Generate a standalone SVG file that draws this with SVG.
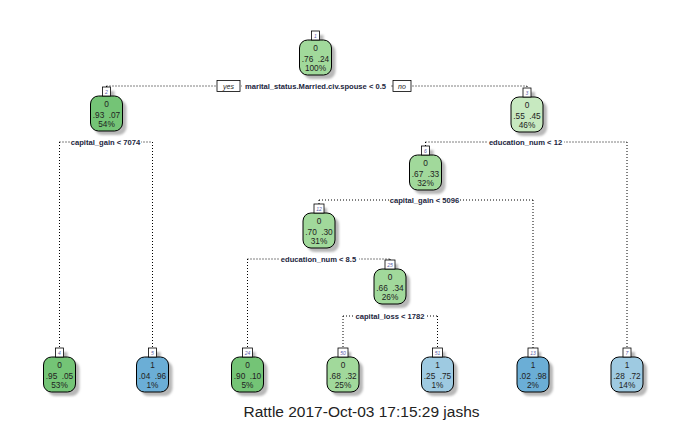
<svg xmlns="http://www.w3.org/2000/svg" width="686" height="423" viewBox="0 0 686 423">
<style>
.bg{fill:#ffffff}
.box{stroke:#000;stroke-width:1}
.sh{fill:#b8b8b8}
.tab{fill:#fff;stroke:#000;stroke-width:0.8}
.nt{font-family:"Liberation Sans",Arial,sans-serif;font-size:8.3px;fill:#222;text-anchor:middle;word-spacing:2px}
.num{font-family:"Liberation Sans",Arial,sans-serif;font-size:5px;fill:#5a5aa8;text-anchor:middle;font-style:italic}
.con{fill:none;stroke:#000;stroke-width:1;stroke-dasharray:1 2}
.lbl{font-family:"Liberation Sans",Arial,sans-serif;font-size:7.6px;font-weight:bold;fill:#1c2640;text-anchor:middle}
.lb{fill:#fff}
.yn{fill:#fff;stroke:#000;stroke-width:0.8}
.ynt{font-family:"Liberation Sans",Arial,sans-serif;font-size:7px;font-style:italic;fill:#222;text-anchor:middle}
.g1{fill:#74c476}.g2{fill:#a1d99b}.g3{fill:#c7e9c0}.b1{fill:#6baed6}.b2{fill:#9ecae1}
.title{font-family:"Liberation Sans",Arial,sans-serif;font-size:15.5px;fill:#222;text-anchor:middle}
</style>
<defs>
<filter id="blur" x="-20%" y="-20%" width="140%" height="140%"><feGaussianBlur stdDeviation="0.9"/></filter>
<g id="nodeShadow" filter="url(#blur)">
<rect class="sh" x="-12" y="4" width="32" height="35" rx="8"/>
<rect class="sh" x="0" y="-5" width="8" height="9"/>
</g>
</defs>
<rect class="bg" width="686" height="423"/>

<g id="connectors">
<path class="con" d="M106.5,86 H527 M106.5,86 V87 M527,86 V88"/>
<path class="con" d="M59.5,142 H152.5 M59.5,142 V348 M152.5,142 V348"/>
<path class="con" d="M425.5,142 H627 M425.5,142 V146 M627,142 V348"/>
<path class="con" d="M319,200 H533 M319,200 V204 M533,200 V348"/>
<path class="con" d="M247.5,259 H390 M247.5,259 V348 M390,259 V260"/>
<path class="con" d="M343,316 H437.5 M343,316 V348 M437.5,316 V348"/>
</g>

<g id="split-labels">
<rect class="lb" x="242" y="81" width="148" height="10"/>
<text class="lbl" x="315.5" y="89">marital_status.Married.civ.spouse &lt; 0.5</text>
<rect class="yn" x="217" y="80.5" width="23" height="11"/>
<text class="ynt" x="228.5" y="89">yes</text>
<rect class="yn" x="393" y="80.5" width="18" height="11"/>
<text class="ynt" x="402" y="89">no</text>
<rect class="lb" x="70" y="137" width="71" height="10"/>
<text class="lbl" x="105.5" y="145">capital_gain &lt; 7074</text>
<rect class="lb" x="487" y="137" width="77" height="10"/>
<text class="lbl" x="525.5" y="145">education_num &lt; 12</text>
<rect class="lb" x="389" y="195" width="71" height="10"/>
<text class="lbl" x="424.5" y="203">capital_gain &lt; 5096</text>
<rect class="lb" x="279" y="254" width="80" height="10"/>
<text class="lbl" x="318.5" y="262">education_num &lt; 8.5</text>
<rect class="lb" x="355" y="311" width="70" height="10"/>
<text class="lbl" x="390" y="319">capital_loss &lt; 1782</text>
</g>

<g id="node1" transform="translate(315.5,40)">
<use href="#nodeShadow"/>
<rect class="box g2" x="-16" y="0" width="32" height="35" rx="8"/>
<rect class="tab" x="-4" y="-9" width="8" height="9"/>
<text class="num" x="0" y="-2">1</text>
<text class="nt" x="0" y="11">0</text>
<text class="nt" x="0" y="22">.76 .24</text>
<text class="nt" x="0" y="31">100%</text>
</g>

<g id="node2" transform="translate(106.5,96)">
<use href="#nodeShadow"/>
<rect class="box g1" x="-16" y="0" width="32" height="35" rx="8"/>
<rect class="tab" x="-4" y="-9" width="8" height="9"/>
<text class="num" x="0" y="-2">2</text>
<text class="nt" x="0" y="11">0</text>
<text class="nt" x="0" y="22">.93 .07</text>
<text class="nt" x="0" y="31">54%</text>
</g>

<g id="node3" transform="translate(527,97)">
<use href="#nodeShadow"/>
<rect class="box g3" x="-16" y="0" width="32" height="35" rx="8"/>
<rect class="tab" x="-4" y="-9" width="8" height="9"/>
<text class="num" x="0" y="-2">3</text>
<text class="nt" x="0" y="11">0</text>
<text class="nt" x="0" y="22">.55 .45</text>
<text class="nt" x="0" y="31">46%</text>
</g>

<g id="node6" transform="translate(425.5,155)">
<use href="#nodeShadow"/>
<rect class="box g2" x="-16" y="0" width="32" height="35" rx="8"/>
<rect class="tab" x="-4" y="-9" width="8" height="9"/>
<text class="num" x="0" y="-2">6</text>
<text class="nt" x="0" y="11">0</text>
<text class="nt" x="0" y="22">.67 .33</text>
<text class="nt" x="0" y="31">32%</text>
</g>

<g id="node12" transform="translate(319,213)">
<use href="#nodeShadow"/>
<rect class="box g2" x="-16" y="0" width="32" height="35" rx="8"/>
<rect class="tab" x="-5" y="-9" width="10" height="9"/>
<text class="num" x="0" y="-2">12</text>
<text class="nt" x="0" y="11">0</text>
<text class="nt" x="0" y="22">.70 .30</text>
<text class="nt" x="0" y="31">31%</text>
</g>

<g id="node25" transform="translate(390,269)">
<use href="#nodeShadow"/>
<rect class="box g2" x="-16" y="0" width="32" height="35" rx="8"/>
<rect class="tab" x="-5" y="-9" width="10" height="9"/>
<text class="num" x="0" y="-2">25</text>
<text class="nt" x="0" y="11">0</text>
<text class="nt" x="0" y="22">.66 .34</text>
<text class="nt" x="0" y="31">26%</text>
</g>

<g id="node4" transform="translate(59.5,357)">
<use href="#nodeShadow"/>
<rect class="box g1" x="-16" y="0" width="32" height="35" rx="8"/>
<rect class="tab" x="-4" y="-9" width="8" height="9"/>
<text class="num" x="0" y="-2">4</text>
<text class="nt" x="0" y="11">0</text>
<text class="nt" x="0" y="22">.95 .05</text>
<text class="nt" x="0" y="31">53%</text>
</g>

<g id="node5" transform="translate(152.5,357)">
<use href="#nodeShadow"/>
<rect class="box b1" x="-16" y="0" width="32" height="35" rx="8"/>
<rect class="tab" x="-4" y="-9" width="8" height="9"/>
<text class="num" x="0" y="-2">5</text>
<text class="nt" x="0" y="11">1</text>
<text class="nt" x="0" y="22">.04 .96</text>
<text class="nt" x="0" y="31">1%</text>
</g>

<g id="node24" transform="translate(247.5,357)">
<use href="#nodeShadow"/>
<rect class="box g1" x="-16" y="0" width="32" height="35" rx="8"/>
<rect class="tab" x="-5" y="-9" width="10" height="9"/>
<text class="num" x="0" y="-2">24</text>
<text class="nt" x="0" y="11">0</text>
<text class="nt" x="0" y="22">.90 .10</text>
<text class="nt" x="0" y="31">5%</text>
</g>

<g id="node50" transform="translate(343,357)">
<use href="#nodeShadow"/>
<rect class="box g2" x="-16" y="0" width="32" height="35" rx="8"/>
<rect class="tab" x="-5" y="-9" width="10" height="9"/>
<text class="num" x="0" y="-2">50</text>
<text class="nt" x="0" y="11">0</text>
<text class="nt" x="0" y="22">.68 .32</text>
<text class="nt" x="0" y="31">25%</text>
</g>

<g id="node51" transform="translate(437.5,357)">
<use href="#nodeShadow"/>
<rect class="box b2" x="-16" y="0" width="32" height="35" rx="8"/>
<rect class="tab" x="-5" y="-9" width="10" height="9"/>
<text class="num" x="0" y="-2">51</text>
<text class="nt" x="0" y="11">1</text>
<text class="nt" x="0" y="22">.25 .75</text>
<text class="nt" x="0" y="31">1%</text>
</g>

<g id="node13" transform="translate(533,357)">
<use href="#nodeShadow"/>
<rect class="box b1" x="-16" y="0" width="32" height="35" rx="8"/>
<rect class="tab" x="-5" y="-9" width="10" height="9"/>
<text class="num" x="0" y="-2">13</text>
<text class="nt" x="0" y="11">1</text>
<text class="nt" x="0" y="22">.02 .98</text>
<text class="nt" x="0" y="31">2%</text>
</g>

<g id="node7" transform="translate(627,357)">
<use href="#nodeShadow"/>
<rect class="box b2" x="-16" y="0" width="32" height="35" rx="8"/>
<rect class="tab" x="-4" y="-9" width="8" height="9"/>
<text class="num" x="0" y="-2">7</text>
<text class="nt" x="0" y="11">1</text>
<text class="nt" x="0" y="22">.28 .72</text>
<text class="nt" x="0" y="31">14%</text>
</g>

<text class="title" x="361.5" y="417">Rattle 2017-Oct-03 17:15:29 jashs</text>
</svg>
